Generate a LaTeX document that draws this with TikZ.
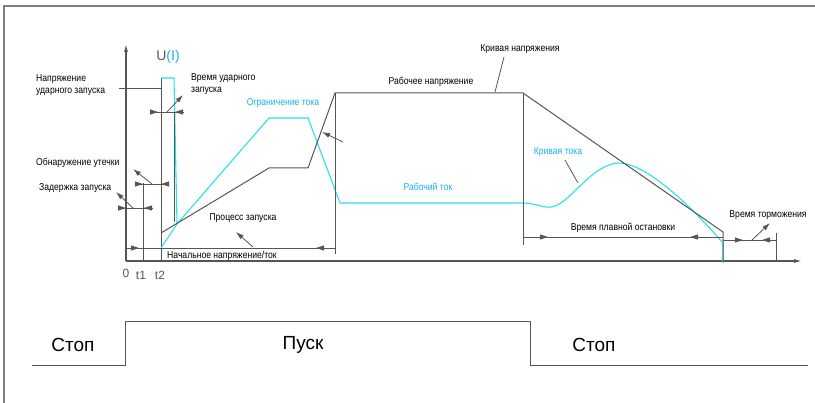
\documentclass[tikz,border=0pt]{standalone}
\usepackage{fontspec}
\setmainfont{Liberation Sans}
\newfontfamily\lblfont[FakeStretch=0.86]{Liberation Sans}
\usetikzlibrary{arrows.meta}
\definecolor{axisgray}{RGB}{85,85,85}
\definecolor{framegray}{RGB}{128,128,128}
\definecolor{curcyan}{RGB}{40,225,240}
\definecolor{txtcyan}{RGB}{20,180,235}
\begin{document}
\begin{tikzpicture}[x=1pt,y=-1pt,
 ax/.style={axisgray,line width=1.1pt},
 volt/.style={axisgray,line width=1pt},
 cur/.style={curcyan,line width=1.1pt},
 thinl/.style={axisgray,line width=0.8pt},
 lbl/.style={font=\lblfont\fontsize{10}{12}\selectfont,text=black,inner sep=0pt},
 clbl/.style={lbl,text=txtcyan},
 big/.style={font=\fontsize{19}{22}\selectfont,inner sep=0pt,text=black},
 tick/.style={font=\fontsize{12}{14}\selectfont,inner sep=0pt,text=axisgray},
 tipa/.style={thinl,-{Triangle[length=8pt,width=5pt]}},
 lead/.style={thinl,-{Latex[length=8pt,width=5pt]}},
]
\useasboundingbox (0,0) rectangle (815,403);
% frame
\draw[framegray,line width=1.3pt] (4,403) -- (4,6) -- (815,6);
% axes
\coordinate (O) at (126,261);
\coordinate (Ytop) at (126,44);
\coordinate (Xend) at (802,261);
\draw[ax,-{Latex[length=8pt,width=4pt]}] (O) -- (Ytop);
\draw[ax,-{Latex[length=8pt,width=4pt]}] (O) -- (Xend);
\node[tick] (l0) at (126,273) {0};
\node[tick] (lt1) at (141,275) {t1};
\node[tick] (lt2) at (160,275) {t2};
% t1, t2 lines
\draw[thinl] (143,183) -- (143,261);
\draw[volt] (161,78) -- (161,261);
% impulse
\draw[cur] (161,78) -- (174,78) -- (177,224);
\draw[volt,axisgray!80!teal] (174,112) -- (174,222);
% current ramp
\draw[cur] (161,248) -- (177,224) -- (269,118) -- (308,118) -- (340,203) -- (520,203)
  .. controls (540,203) and (545,210) .. (555,206)
  .. controls (572,200) and (592,165) .. (618,163)
  .. controls (645,162) and (690,205) .. (723,243) -- (723,263);
% voltage curve
\draw[volt] (161,233) -- (269,168) -- (308,168) -- (335,93) -- (523,93) -- (723,232) -- (723,262);
\draw[volt] (335,93) -- (335,254);
\draw[volt] (523,93) -- (523,245);
% pointer lines
\draw[thinl] (119,88) -- (161,88);
% dimension: impulse time
\draw[thinl] (150,112) -- (183,112);
\draw[tipa] (150,112) -- (158,112);
\draw[tipa] (183,112) -- (175,112);
\draw[lead] (167,112) -- (183,95);
% leakage detection
\draw[thinl] (136,184) -- (168,184);
\draw[tipa] (136,184) -- (143,184);
\draw[tipa] (168,184) -- (161,184);
\draw[lead] (152,184) -- (133,169);
% start delay
\draw[thinl] (119,208) -- (152,208);
\draw[tipa] (119,208) -- (126,208);
\draw[tipa] (152,208) -- (144,208);
\draw[lead] (133,208) -- (116,192);
% initial voltage dimension
\draw[thinl] (126,248) -- (335,248);
\draw[tipa] (130,248) -- (139,248);
\draw[tipa] (325,248) -- (316,248);
\draw[lead] (253,247) -- (236,232);
% pointer on voltage ramp
\draw[lead] (343,142) -- (322,132);
% leaders
\draw[thinl] (504,57) -- (495,92);
\draw[thinl] (565,160) -- (578,183);
% soft stop dimension
\draw[thinl] (523,237) -- (723,237);
\draw[tipa] (538,237) -- (548,237);
\draw[tipa] (700,237) -- (690,237);
% braking
\draw[thinl] (723,240) -- (776,240);
\draw[thinl] (776,233) -- (776,262);
\draw[tipa] (735,240) -- (743,240);
\draw[tipa] (770,240) -- (762,240);
\draw[lead] (752,240) -- (770,223);
% labels
\node[inner sep=0pt,font=\fontsize{14}{16}\selectfont] (UI) at (168,57) {\textcolor{axisgray}{U}\textcolor{txtcyan}{(I)}};
\node[lbl,align=left,anchor=west] (ush) at (36,85) {Напряжение\\ударного запуска};
\node[lbl,align=left,anchor=west] (tush) at (191,84) {Время ударного\\запуска};
\node[lbl,anchor=west] (leak) at (36,163) {Обнаружение утечки};
\node[lbl,anchor=west] (delay) at (39,188) {Задержка запуска};
\node[clbl] (ilim) at (283,103) {Ограничение тока};
\node[lbl] (proc) at (243,218) {Процесс запуска};
\node[lbl,anchor=west] (init) at (167,256) {Начальное напряжение/ток};
\node[lbl] (work) at (431,82) {Рабочее напряжение};
\node[lbl] (vcurve) at (520,49) {Кривая напряжения};
\node[clbl] (wcur) at (428,187) {Рабочий ток};
\node[clbl] (icurve) at (558,152) {Кривая тока};
\node[lbl] (soft) at (623,228) {Время плавной остановки};
\node[lbl] (brake) at (768,215) {Время торможения};
% bottom signal
\draw[thinl,line width=1pt] (32,366) -- (125,366) -- (125,322) -- (530,322) -- (530,366) -- (808,366);
\node[big] (stop1) at (73,345) {Стоп};
\node[big] (run) at (303,345) {Пуск};
\node[big] (stop2) at (594,345) {Стоп};
\end{tikzpicture}
\end{document}
